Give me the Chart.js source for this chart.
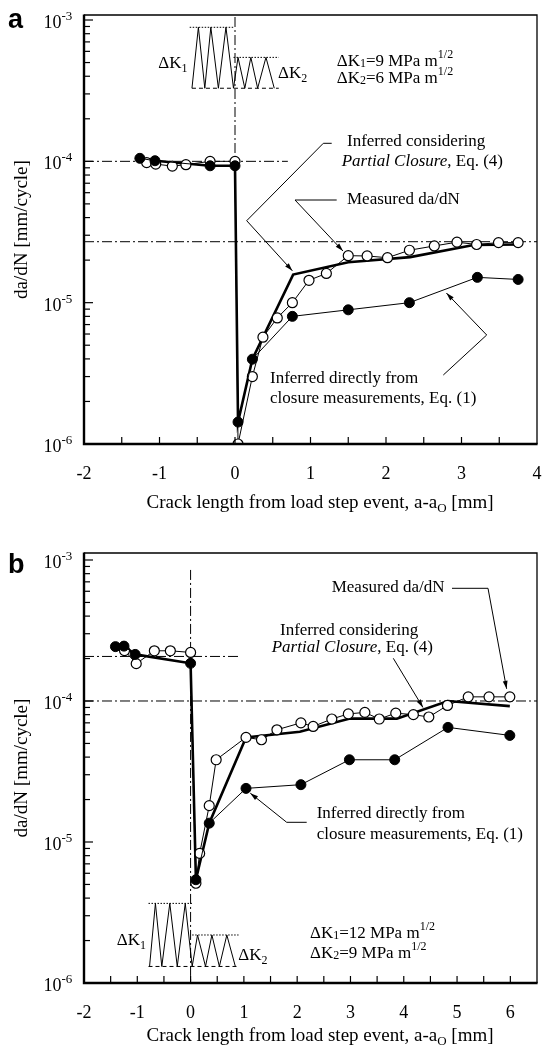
<!DOCTYPE html>
<html>
<head>
<meta charset="utf-8">
<script src="https://cdn.jsdelivr.net/npm/chart.js@4.4.1/dist/chart.umd.min.js"></script>
<style>
  html, body { margin: 0; padding: 0; background: #fff; }
  #wrap { position: relative; width: 542px; height: 1053px; }
  canvas { position: absolute; left: 0; }
  #chartA { top: 0; }
  #chartB { top: 520px; }
</style>
</head>
<body>
<div id="wrap">
  <canvas id="chartA" width="542" height="520"></canvas>
  <canvas id="chartB" width="542" height="533"></canvas>
</div>
<script>
// ---- Panel a: dK1 = 9 -> dK2 = 6 MPa m^1/2 ----
const aMeasX = [-1.17, -1.05, -0.83, -0.65, -0.33, 0, 0.04, 0.23, 0.37, 0.56, 0.76, 0.98, 1.21, 1.50, 1.75, 2.02, 2.31, 2.64, 2.94, 3.20, 3.49, 3.75];
const aMeasY = [0.98e-4, 0.956e-4, 0.925e-4, 0.947e-4, 1.0e-4, 1.0e-4, 1.0e-6, 3.0e-6, 5.7e-6, 7.8e-6, 1.0e-5, 1.44e-5, 1.61e-5, 2.15e-5, 2.14e-5, 2.08e-5, 2.35e-5, 2.52e-5, 2.68e-5, 2.58e-5, 2.66e-5, 2.66e-5];
const aEq1X = [-1.26, -1.06, -0.33, 0, 0.04, 0.23, 0.76, 1.50, 2.31, 3.21, 3.75];
const aEq1Y = [1.05e-4, 1.01e-4, 0.93e-4, 0.93e-4, 1.43e-6, 3.98e-6, 8.0e-6, 8.9e-6, 1.0e-5, 1.51e-5, 1.46e-5];
const aEq4X = [-1.26, -1.06, -0.33, 0, 0.04, 0.23, 0.77, 1.50, 2.32, 3.16, 3.77];
const aEq4Y = [1.05e-4, 1.01e-4, 0.93e-4, 0.93e-4, 1.43e-6, 3.98e-6, 1.58e-5, 1.93e-5, 2.1e-5, 2.56e-5, 2.58e-5];
// dash-dot guide levels: [value, from x, to x]
const aLevels = [[1e-4, -2, 0.7], [2.7e-5, -2, 4]];
const aStepLine = [0, 1.05e-3, 1e-4];

// ---- Panel b: dK1 = 12 -> dK2 = 9 MPa m^1/2 ----
const bMeasX = [-1.24, -1.02, -0.68, -0.38, 0, 0.10, 0.17, 0.35, 0.48, 1.04, 1.33, 1.62, 2.07, 2.30, 2.65, 2.96, 3.27, 3.54, 3.85, 4.18, 4.47, 4.82, 5.21, 5.60, 5.99];
const bMeasY = [2.28e-4, 1.84e-4, 2.27e-4, 2.27e-4, 2.21e-4, 5.1e-6, 8.3e-6, 1.81e-5, 3.83e-5, 5.52e-5, 5.31e-5, 6.25e-5, 7.0e-5, 6.6e-5, 7.45e-5, 8.1e-5, 8.3e-5, 7.45e-5, 8.2e-5, 8.0e-5, 7.7e-5, 9.3e-5, 1.07e-4, 1.07e-4, 1.07e-4];
const bEq1X = [-1.41, -1.25, -1.04, 0, 0.10, 0.35, 1.04, 2.07, 2.98, 3.83, 4.83, 5.99];
const bEq1Y = [2.43e-4, 2.45e-4, 2.14e-4, 1.85e-4, 5.4e-6, 1.36e-5, 2.4e-5, 2.55e-5, 3.83e-5, 3.83e-5, 6.5e-5, 5.7e-5];
const bEq4X = [-1.41, -1.25, -1.04, 0, 0.10, 0.35, 1.04, 2.05, 2.99, 3.87, 4.83, 5.99];
const bEq4Y = [2.43e-4, 2.45e-4, 2.14e-4, 1.85e-4, 5.4e-6, 1.36e-5, 5.52e-5, 6.05e-5, 7.5e-5, 7.5e-5, 1.0e-4, 0.92e-4];
const bLevels = [[2.07e-4, -2, 0.93], [1e-4, -2, 6.5]];
const bStepLine = [0, 8.5e-4, 1e-6];

const SERIF = '"Liberation Serif", "Times New Roman", serif';
const zip = (xs, ys) => xs.map((x, i) => ({ x: x, y: ys[i] }));
const fontOf = (size, italic) => (italic ? 'italic ' : '') + size + 'px ' + SERIF;

// log ticks: decades plus 2..9 minors
const Y_TICKS = [];
for (let e = -6; e <= -3; e++) {
    for (let m = 1; m <= 9; m++) {
        const v = m * Math.pow(10, e);
        if (v <= 1.0001e-3) Y_TICKS.push(v);
    }
}
const isDecade = (v) => Math.abs(Math.log10(v) - Math.round(Math.log10(v))) < 1e-6;

function toPx(chart, p) {
    if (Array.isArray(p)) return p;
    return [chart.scales.x.getPixelForValue(p.x), chart.scales.y.getPixelForValue(p.y)];
}

// text made of runs: [text, size, dy, italic]
function drawRich(ctx, x, y, parts, align) {
    let w = 0;
    parts.forEach(p => { ctx.font = fontOf(p[1], p[3]); w += ctx.measureText(p[0]).width; });
    let cx = align === 'center' ? x - w / 2 : x;
    ctx.textAlign = 'left';
    ctx.textBaseline = 'alphabetic';
    parts.forEach(p => {
        ctx.font = fontOf(p[1], p[3]);
        ctx.fillText(p[0], cx, y + (p[2] || 0));
        cx += ctx.measureText(p[0]).width;
    });
}

function polyline(ctx, pts, dash, width) {
    ctx.setLineDash(dash || []);
    ctx.lineWidth = width || 1;
    ctx.beginPath();
    pts.forEach((p, i) => i ? ctx.lineTo(p[0], p[1]) : ctx.moveTo(p[0], p[1]));
    ctx.stroke();
    ctx.setLineDash([]);
}

function arrowHead(ctx, from, tip) {
    const ang = Math.atan2(tip[1] - from[1], tip[0] - from[0]);
    const len = 8, half = 2.4;
    const bx = tip[0] - len * Math.cos(ang), by = tip[1] - len * Math.sin(ang);
    ctx.beginPath();
    ctx.moveTo(tip[0], tip[1]);
    ctx.lineTo(bx + half * Math.sin(ang), by - half * Math.cos(ang));
    ctx.lineTo(bx - half * Math.sin(ang), by + half * Math.cos(ang));
    ctx.closePath();
    ctx.fill();
}

// axes frame, inward ticks, power-of-ten labels, titles and call-outs
const decor = {
    id: 'decor',
    afterDraw(chart, args, o) {
        const ctx = chart.ctx, area = chart.chartArea;
        const xs = chart.scales.x, ys = chart.scales.y;
        ctx.save();
        ctx.fillStyle = '#000';
        ctx.strokeStyle = '#000';

        // frame
        polyline(ctx, [[area.left, area.top], [area.right, area.top], [area.right, area.bottom]], null, 1.3);
        polyline(ctx, [[area.left, area.top - 0.6], [area.left, area.bottom], [area.right + 0.6, area.bottom]], null, 2.4);

        // y ticks + labels
        ys.ticks.forEach(t => {
            const y = ys.getPixelForValue(t.value);
            const major = isDecade(t.value);
            polyline(ctx, [[area.left, y], [area.left + (major ? 9 : 6), y]], null, 1.2);
            if (major) {
                const ex = Math.round(Math.log10(t.value));
                drawRich(ctx, 43.5, y + 8, [['10', 18], [String(ex), 13, -8]]);
            }
        });
        // x ticks
        xs.ticks.forEach(t => {
            const x = xs.getPixelForValue(t.value);
            if (x <= area.left + 1 || x >= area.right - 1) return;
            polyline(ctx, [[x, area.bottom], [x, area.bottom - 7]], null, 1.2);
        });

        // axis titles
        drawRich(ctx, 320, o.xTitleY, [['Crack length from load step event, a-a', 19], ['O', 13, 4], [' [mm]', 19]], 'center');
        ctx.save();
        ctx.translate(22, (area.top + area.bottom) / 2);
        ctx.rotate(-Math.PI / 2);
        ctx.font = fontOf(19);
        ctx.textAlign = 'center';
        ctx.textBaseline = 'middle';
        ctx.fillText('da/dN [mm/cycle]', 0, 0);
        ctx.restore();

        // panel letter
        ctx.font = 'bold 27px "Liberation Sans", Arial, sans-serif';
        ctx.textAlign = 'left';
        ctx.textBaseline = 'alphabetic';
        ctx.fillText(o.letter, 8, o.letterY);

        // load-step schematic
        const ins = o.inset;
        const zig = (xsArr, hi) => xsArr.map((x, i) => toPx(chart, { x: x, y: i % 2 ? hi : ins.lo }));
        polyline(ctx, zig(ins.zig1, ins.hi1), null, 1);
        polyline(ctx, zig(ins.zig2, ins.hi2), null, 1);
        polyline(ctx, [toPx(chart, { x: ins.top1[0], y: ins.hi1 }), toPx(chart, { x: ins.top1[1], y: ins.hi1 })], [1.5, 1.5], 1);
        polyline(ctx, [toPx(chart, { x: ins.top2[0], y: ins.hi2 }), toPx(chart, { x: ins.top2[1], y: ins.hi2 })], [1.5, 1.5], 1);
        polyline(ctx, [toPx(chart, { x: ins.base[0], y: ins.lo }), toPx(chart, { x: ins.base[1], y: ins.lo })], [4, 3], 1);

        // leaders
        o.leaders.forEach(L => {
            const pts = L.map(p => toPx(chart, p));
            polyline(ctx, pts, null, 1);
            arrowHead(ctx, pts[pts.length - 2], pts[pts.length - 1]);
        });

        // labels
        o.texts.forEach(T => drawRich(ctx, T.x, T.y, T.parts));
        ctx.restore();
    }
};

function dkLine(n, val, y, x) {
    return { x: x, y: y, parts: [['\u0394K', 17], [n, 12, 1], ['=' + val + ' MPa m', 17], ['1/2', 12, -8]] };
}

function makePanel(id, cfg) {
    const datasets = [
        { data: zip(cfg.eq1X, cfg.eq1Y), borderColor: '#000', borderWidth: 1, pointRadius: 5,
          pointBackgroundColor: '#000', pointBorderColor: '#000', pointBorderWidth: 1, order: 1 },
        { data: zip(cfg.measX, cfg.measY), borderColor: '#000', borderWidth: 1, pointRadius: 5,
          pointBackgroundColor: '#fff', pointBorderColor: '#000', pointBorderWidth: 1.2, order: 2 },
        { data: zip(cfg.eq4X, cfg.eq4Y), borderColor: '#000', borderWidth: 2.6, pointRadius: 0, order: 3 }
    ];
    cfg.levels.forEach(l => datasets.push({
        data: [{ x: l[1], y: l[0] }, { x: l[2], y: l[0] }], borderColor: '#000', borderWidth: 1,
        borderDash: [10, 3, 2, 3], pointRadius: 0, order: 4
    }));
    datasets.push({
        data: [{ x: cfg.step[0], y: cfg.step[1] }, { x: cfg.step[0], y: cfg.step[2] }], borderColor: '#000',
        borderWidth: 1, borderDash: [10, 3, 2, 3], pointRadius: 0, order: 4
    });

    const canvas = document.getElementById(id);
    return new Chart(canvas.getContext('2d'), {
        type: 'line',
        data: { datasets: datasets },
        options: {
            responsive: false,
            animation: false,
            layout: { autoPadding: false, padding: { top: cfg.padTop, right: 5, left: 0, bottom: 0 } },
            plugins: { legend: { display: false }, tooltip: { enabled: false }, decor: cfg.decor },
            scales: {
                x: {
                    type: 'linear', min: -2, max: cfg.xMax, bounds: 'data',
                    grid: { display: false }, border: { display: false },
                    afterBuildTicks: (s) => {
                        const t = [];
                        for (let v = -2; v <= cfg.xMax + 1e-9; v += 0.5) t.push({ value: Math.round(v * 2) / 2 });
                        s.ticks = t;
                    },
                    afterFit: (s) => {
                        s.height = cfg.xAxisH;
                        // keep the plot box fixed, labels may overhang
                        s.paddingLeft = 0;
                        s.paddingRight = 0;
                    },
                    ticks: {
                        autoSkip: false, maxRotation: 0, padding: 11, color: '#000',
                        font: { family: SERIF, size: 18 },
                        callback: (v) => Math.abs(v - Math.round(v)) < 1e-9 ? String(Math.round(v)) : ''
                    }
                },
                y: {
                    type: 'logarithmic', min: 1e-6, max: cfg.yMax, bounds: 'data',
                    grid: { display: false }, border: { display: false },
                    afterBuildTicks: (s) => { s.ticks = Y_TICKS.map(v => ({ value: v })); },
                    afterFit: (s) => { s.width = 84; s.paddingTop = 0; s.paddingBottom = 0; },
                    ticks: { display: false }
                }
            }
        },
        plugins: [decor]
    });
}

makePanel('chartA', {
    measX: aMeasX, measY: aMeasY, eq1X: aEq1X, eq1Y: aEq1Y, eq4X: aEq4X, eq4Y: aEq4Y,
    levels: aLevels, step: aStepLine, xMax: 4, yMax: 1.085e-3, padTop: 15, xAxisH: 76,
    decor: {
        letter: 'a', letterY: 28, xTitleY: 508,
        inset: {
            lo: 3.29e-4, hi1: 8.88e-4, hi2: 5.44e-4,
            zig1: [-0.57, -0.485, -0.40, -0.32, -0.22, -0.12, -0.02],
            zig2: [-0.02, 0.04, 0.13, 0.21, 0.30, 0.41, 0.52],
            top1: [-0.60, -0.02], top2: [-0.02, 0.58], base: [-0.57, 0.58]
        },
        leaders: [
            [[331.7, 143.3], [323.3, 143.3], [246.7, 220.7], { x: 0.76, y: 1.68e-5 }],
            [[336.7, 200], [295, 200], { x: 1.43, y: 2.32e-5 }],
            [[443.3, 375], [486.7, 335], { x: 2.80, y: 1.17e-5 }]
        ],
        texts: [
            dkLine('1', '9', 66, 336.7),
            dkLine('2', '6', 83, 336.7),
            { x: 347, y: 146, parts: [['Inferred considering', 17]] },
            { x: 341.7, y: 166, parts: [['Partial Closure', 17, 0, true], [', Eq. (4)', 17]] },
            { x: 347, y: 204, parts: [['Measured da/dN', 17]] },
            { x: 270, y: 383, parts: [['Inferred directly from', 17]] },
            { x: 270, y: 403, parts: [['closure measurements, Eq. (1)', 17]] },
            { x: 158.3, y: 67.5, parts: [['\u0394K', 17], ['1', 12, 4]] },
            { x: 278, y: 78, parts: [['\u0394K', 17], ['2', 12, 4]] }
        ]
    }
});

makePanel('chartB', {
    measX: bMeasX, measY: bMeasY, eq1X: bEq1X, eq1Y: bEq1Y, eq4X: bEq4X, eq4Y: bEq4Y,
    levels: bLevels, step: bStepLine, xMax: 6.5, yMax: 1.121e-3, padTop: 33, xAxisH: 70,
    decor: {
        letter: 'b', letterY: 53, xTitleY: 521,
        inset: {
            lo: 1.31e-6, hi1: 3.67e-6, hi2: 2.19e-6,
            zig1: [-0.77, -0.66, -0.54, -0.39, -0.25, -0.10, 0.03],
            zig2: [0.03, 0.13, 0.28, 0.40, 0.54, 0.68, 0.84],
            top1: [-0.79, 0.03], top2: [0.03, 0.90], base: [-0.79, 0.90]
        },
        leaders: [
            [[452, 68.3], [488, 68.3], { x: 5.93, y: 1.22e-4 }],
            [[393.3, 138.3], { x: 4.36, y: 9.0e-5 }],
            [[306.7, 302.3], [286.7, 302.3], { x: 1.12, y: 2.22e-5 }]
        ],
        texts: [
            { x: 331.7, y: 71.7, parts: [['Measured da/dN', 17]] },
            { x: 280, y: 115, parts: [['Inferred considering', 17]] },
            { x: 271.7, y: 132, parts: [['Partial Closure', 17, 0, true], [', Eq. (4)', 17]] },
            { x: 316.7, y: 298, parts: [['Inferred directly from', 17]] },
            { x: 316.7, y: 319, parts: [['closure measurements, Eq. (1)', 17]] },
            dkLine('1', '12', 418, 310),
            dkLine('2', '9', 438, 310),
            { x: 116.7, y: 425, parts: [['\u0394K', 17], ['1', 12, 4]] },
            { x: 238.3, y: 440, parts: [['\u0394K', 17], ['2', 12, 4]] }
        ]
    }
});
</script>
</body>
</html>
